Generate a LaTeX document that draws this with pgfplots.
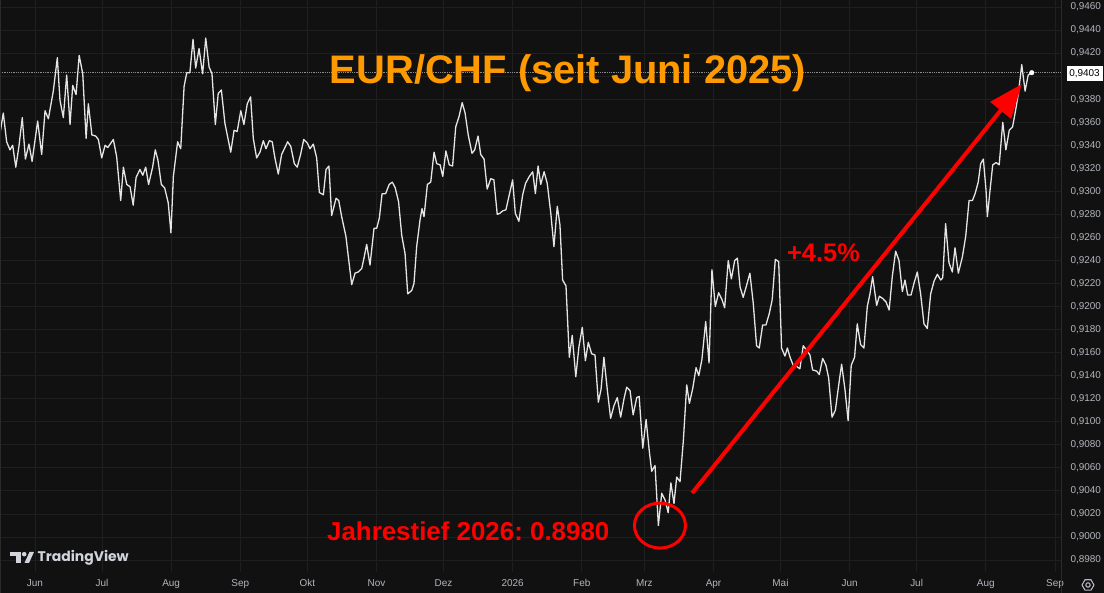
\documentclass[border=0pt]{standalone}
\usepackage{pgfplots}
\pgfplotsset{compat=1.18}
\usepackage{fontspec}
\setmainfont{Liberation Sans}
\newfontfamily\tvfont{Poppins}
\usetikzlibrary{arrows.meta}
\frenchspacing

\definecolor{bg}{HTML}{111111}
\definecolor{gridc}{HTML}{1F1F1F}
\definecolor{axc}{HTML}{2A2A2A}
\definecolor{lbl}{HTML}{B2B5BE}
\definecolor{ttl}{HTML}{FF9900}
\definecolor{rd}{HTML}{FF0000}
\definecolor{logoc}{HTML}{D1D4DC}

\begin{document}
\begin{tikzpicture}
\useasboundingbox (0,0) rectangle (1104bp,593bp);
\fill[bg] (0,0) rectangle (1104bp,593bp);

\begin{axis}[
    at={(0bp,21bp)}, anchor=south west,
    width=1061bp, height=572bp, scale only axis,
    xmin=-15.68, xmax=459.68,
    ymin=0.89696, ymax=0.94661,
    axis line style={draw=none},
    major tick length=0pt,
    grid=major,
    major grid style={color=gridc, line width=0.8bp},
    xtick={0,30,61,92,122,153,183,214,245,273,304,334,365,395,426,457},
    xticklabels={Jun,Jul,Aug,Sep,Okt,Nov,Dez,2026,Feb,Mrz,Apr,Mai,Jun,Jul,Aug,Sep},
    ytick={0.898,0.9,0.902,0.904,0.906,0.908,0.91,0.912,0.914,0.916,0.918,0.92,
           0.922,0.924,0.926,0.928,0.93,0.932,0.934,0.936,0.938,0.942,0.944,0.946},
    extra y ticks={0.94},
    extra y tick labels={},
    extra tick style={grid=major, major grid style={color=gridc, line width=0.8bp}},
    yticklabel pos=right,
    /pgf/number format/assume math mode=true,
    yticklabel={\pgfmathprintnumber[fixed,fixed zerofill,precision=4,use comma]{\tick}},
    yticklabel style={font=\fontsize{10}{11}\selectfont, text=lbl, xshift=6bp},
    xticklabel style={font=\fontsize{10}{11}\selectfont, text=lbl, yshift=-4bp},
]

% last price line
\addplot[densely dotted, color=white!55!black, line width=0.8bp] coordinates {(-15.68,0.9403) (459.68,0.9403)};

% EUR/CHF daily close
\addplot[color=white!90!black, line width=1.3bp, line join=round] coordinates {
(-15.7,0.9350)(-14.2,0.9368)(-12.7,0.9343)(-11.2,0.9336)(-10.0,0.9340)(-8.6,0.9321)(-7.2,0.9339)(-5.7,0.9364)
(-4.3,0.9328)(-2.7,0.9341)(-1.3,0.9326)(1.2,0.9361)(3.0,0.9332)(4.5,0.9370)(6.0,0.9363)(8.2,0.9387)
(10.0,0.9416)(11.2,0.9379)(12.7,0.9364)(14.2,0.9401)(15.7,0.9358)(16.9,0.9392)(18.4,0.9384)(19.8,0.9418)
(21.4,0.9402)(22.9,0.9346)(23.9,0.9376)(25.5,0.9349)(27.2,0.9348)(28.4,0.9345)(29.9,0.9329)(31.4,0.9340)
(32.6,0.9338)(35.1,0.9345)(36.6,0.9330)(38.4,0.9292)(39.6,0.9321)(41.1,0.9306)(42.6,0.9304)(44.0,0.9288)
(45.3,0.9312)(47.0,0.9319)(48.3,0.9314)(49.6,0.9321)(50.9,0.9306)(52.7,0.9321)(53.9,0.9336)(55.1,0.9327)
(56.6,0.9306)(58.1,0.9303)(59.7,0.9290)(60.9,0.9264)(62.0,0.9313)(63.9,0.9343)(65.3,0.9337)(66.8,0.9391)
(68.0,0.9403)(69.4,0.9403)(70.8,0.9432)(72.0,0.9407)(73.5,0.9424)(75.1,0.9402)(76.5,0.9433)(78.0,0.9408)
(79.3,0.9402)(80.8,0.9358)(82.1,0.9385)(83.5,0.9388)(85.1,0.9359)(87.7,0.9334)(89.2,0.9353)(90.6,0.9352)
(92.2,0.9370)(93.6,0.9358)(95.1,0.9376)(96.6,0.9382)(97.8,0.9346)(99.3,0.9329)(100.8,0.9334)(102.3,0.9344)
(103.5,0.9337)(105.0,0.9344)(106.3,0.9343)(107.5,0.9329)(109.0,0.9315)(110.5,0.9332)(113.2,0.9343)(114.6,0.9339)
(116.2,0.9324)(117.5,0.9321)(119.0,0.9332)(120.4,0.9345)(122.0,0.9342)(123.2,0.9337)(124.7,0.9341)(126.2,0.9329)
(127.4,0.9299)(129.2,0.9297)(130.4,0.9319)(131.7,0.9322)(132.9,0.9279)(134.9,0.9294)(136.1,0.9292)(137.4,0.9278)
(139.3,0.9261)(140.4,0.9243)(141.9,0.9219)(143.4,0.9229)(144.8,0.9230)(146.4,0.9233)(147.5,0.9243)(148.6,0.9254)
(150.1,0.9236)(151.9,0.9268)(153.1,0.9268)(154.3,0.9277)(155.5,0.9298)(157.1,0.9298)(158.7,0.9306)(160.1,0.9308)
(161.4,0.9303)(162.9,0.9291)(164.3,0.9262)(165.8,0.9246)(167.0,0.9211)(168.8,0.9214)(169.8,0.9220)(171.0,0.9252)
(172.5,0.9275)(173.4,0.9285)(174.3,0.9278)(175.8,0.9306)(177.3,0.9308)(178.8,0.9334)(180.0,0.9324)(181.5,0.9323)
(182.7,0.9313)(184.1,0.9335)(185.6,0.9323)(187.1,0.9322)(188.5,0.9356)(190.0,0.9365)(191.4,0.9377)(192.7,0.9368)
(194.1,0.9349)(195.8,0.9333)(197.0,0.9336)(198.5,0.9348)(199.7,0.9332)(201.2,0.9328)(202.6,0.9302)(204.2,0.9311)
(205.6,0.9310)(207.1,0.9280)(208.3,0.9281)(209.5,0.9283)(211.0,0.9284)(212.5,0.9297)(214.0,0.9310)(215.2,0.9281)
(216.8,0.9274)(218.5,0.9297)(219.8,0.9307)(221.5,0.9313)(223.0,0.9317)(224.2,0.9298)(225.4,0.9322)(226.6,0.9306)
(228.1,0.9317)(229.5,0.9307)(231.1,0.9281)(232.5,0.9252)(234.0,0.9287)(235.2,0.9271)(236.4,0.9223)(237.9,0.9218)
(239.4,0.9156)(240.7,0.9175)(242.3,0.9139)(243.7,0.9165)(245.2,0.9182)(246.6,0.9153)(247.9,0.9169)(249.4,0.9159)
(250.9,0.9158)(252.4,0.9117)(253.6,0.9128)(254.9,0.9156)(256.4,0.9128)(257.9,0.9103)(259.4,0.9114)(260.9,0.9121)
(262.4,0.9104)(263.9,0.9120)(265.1,0.9130)(266.6,0.9127)(268.0,0.9106)(269.6,0.9121)(270.7,0.9122)(272.3,0.9077)
(273.8,0.9102)(275.2,0.9075)(276.3,0.9057)(277.8,0.9062)(279.3,0.9010)(280.8,0.9038)(282.3,0.9032)(283.7,0.9021)
(284.9,0.9047)(286.3,0.9029)(287.5,0.9052)(289.0,0.9048)(290.5,0.9084)(292.0,0.9132)(293.2,0.9116)(294.7,0.9129)
(296.2,0.9147)(297.4,0.9140)(298.8,0.9154)(300.5,0.9187)(302.0,0.9151)(303.3,0.9232)(304.8,0.9200)(306.3,0.9212)
(307.8,0.9206)(309.0,0.9199)(310.6,0.9240)(312.0,0.9224)(313.5,0.9240)(314.7,0.9242)(315.9,0.9217)(317.3,0.9208)
(318.9,0.9219)(320.3,0.9229)(321.8,0.9203)(323.3,0.9166)(324.5,0.9164)(326.0,0.9184)(327.5,0.9184)(329.0,0.9194)
(330.3,0.9206)(331.7,0.9241)(333.2,0.9239)(334.5,0.9164)(336.0,0.9157)(337.1,0.9164)(338.3,0.9156)(339.7,0.9149)
(341.3,0.9148)(342.7,0.9146)(344.2,0.9166)(345.7,0.9162)(347.2,0.9158)(348.4,0.9145)(350.2,0.9144)(351.4,0.9141)
(352.9,0.9155)(354.4,0.9149)(355.6,0.9138)(357.1,0.9104)(358.6,0.9110)(360.1,0.9132)(361.4,0.9150)(362.9,0.9128)
(364.3,0.9101)(365.7,0.9149)(367.2,0.9156)(368.4,0.9185)(369.9,0.9167)(371.4,0.9164)(372.9,0.9200)(374.1,0.9211)
(375.3,0.9226)(377.1,0.9201)(378.3,0.9209)(379.8,0.9207)(381.3,0.9204)(382.7,0.9197)(384.1,0.9226)(385.6,0.9248)
(387.1,0.9240)(388.6,0.9213)(389.8,0.9223)(391.0,0.9210)(392.5,0.9210)(393.8,0.9220)(395.3,0.9230)(396.8,0.9211)
(398.3,0.9185)(399.8,0.9181)(401.3,0.9211)(402.8,0.9222)(404.3,0.9228)(405.8,0.9223)(406.7,0.9225)(408.0,0.9272)
(409.5,0.9238)(411.0,0.9230)(412.2,0.9251)(413.7,0.9229)(415.5,0.9243)(417.0,0.9261)(418.5,0.9292)(420.0,0.9292)
(421.2,0.9298)(422.6,0.9308)(423.7,0.9324)(424.9,0.9328)(426.1,0.9301)(426.7,0.9278)(427.9,0.9301)(429.1,0.9323)
(430.6,0.9325)(432.0,0.9323)(433.6,0.9360)(435.0,0.9336)(436.5,0.9353)(438.0,0.9356)(439.5,0.9372)(440.6,0.9385)
(442.1,0.9410)(443.6,0.9387)(445.0,0.9401)(446.6,0.9403)
};

% last value dot
\addplot[only marks, mark=*, mark size=2.3bp, color=white] coordinates {(446.6,0.9403)};

% annotations
\draw[rd, line width=4bp, -{Triangle[length=34bp, width=26bp]}]
    (axis cs:294.4,0.90381) -- (axis cs:442.2,0.93932);
\draw[rd, line width=3bp] (axis cs:280.0,0.90099) ellipse [x radius=25.5bp, y radius=22.5bp];
\node[anchor=base, inner sep=0pt, text=ttl, font=\fontsize{40}{40}\selectfont\bfseries]
    at (axis cs:238.8,0.93932) {EUR/CHF (seit Juni 2025)};
\node[anchor=base west, inner sep=0pt, text=rd, font=\fontsize{26}{26}\selectfont\bfseries]
    at (axis cs:130.8,0.89973) {Jahrestief 2026: 0.8980};
\node[anchor=base west, inner sep=0pt, text=rd, font=\fontsize{25.5}{26}\selectfont\bfseries]
    at (axis cs:336.9,0.92395) {+4.5\%};
\end{axis}

\begin{scope}[x=1bp, y=-1bp, shift={(0bp,593bp)}]
  % panel borders
  \draw[axc, line width=1bp] (1061,0) -- (1061,593);
  \draw[axc, line width=1bp] (0.5,0) -- (0.5,593);
  % last price label
  \node[fill=white, text=black, inner sep=0pt, minimum width=36bp, minimum height=15bp,
        font=\fontsize{10}{11}\selectfont] at (1084.5,73.7) {0,9403};
  % TradingView logo
  \fill[logoc] (10,552) rectangle (20.5,556.5);
  \fill[logoc] (15.8,552) rectangle (20.5,563);
  \fill[logoc] (24.2,554.2) circle (2.3);
  \fill[logoc] (24.5,563) -- (29.5,552) -- (34,552) -- (29,563) -- cycle;
  \node[anchor=west, inner sep=0pt, text=logoc, font=\tvfont\fontsize{14}{14}\selectfont\bfseries]
      at (37.5,557.5) {TradingView};
  % settings icon
  \draw[lbl, line width=1.1bp] (1094,585) -- (1091,590.2) -- (1085,590.2) -- (1082,585)
      -- (1085,579.8) -- (1091,579.8) -- cycle;
  \draw[lbl, line width=1.1bp] (1088,585) circle (2.2);
\end{scope}
\end{tikzpicture}
\end{document}
